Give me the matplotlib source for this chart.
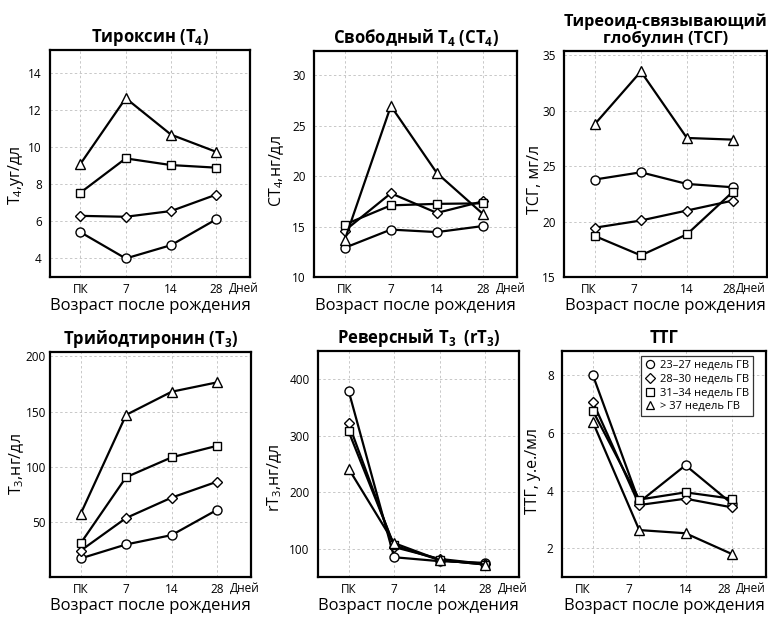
import matplotlib
matplotlib.use("Agg")
import matplotlib.pyplot as plt
from matplotlib.lines import Line2D
from matplotlib.transforms import ScaledTranslation

plt.rcParams['font.family'] = ['Open Sans', 'DejaVu Sans']
plt.rcParams['mathtext.fontset'] = 'custom'
plt.rcParams['mathtext.rm'] = 'Open Sans'

days = ['ПК', '7', '14', '28']
groups = ['23–27 недель ГВ', '28–30 недель ГВ', '31–34 недель ГВ', '> 37 недель ГВ']

# Тироксин T4
t4_c = [5.42, 4.0, 4.72, 6.12]
t4_d = [6.3, 6.25, 6.56, 7.45]
t4_s = [7.55, 9.4, 9.04, 8.9]
t4_t = [9.1, 12.65, 10.68, 9.75]

# Свободный T4
ft4_c = [12.9, 14.7, 14.45, 15.05]
ft4_d = [14.6, 18.3, 16.35, 17.5]
ft4_s = [15.2, 17.1, 17.25, 17.3]
ft4_t = [13.7, 26.95, 20.3, 16.25]

# ТСГ
tbg_c = [23.8, 24.45, 23.4, 23.1]
tbg_d = [19.45, 20.1, 21.0, 21.9]
tbg_s = [18.7, 16.95, 18.85, 22.7]
tbg_t = [28.8, 33.55, 27.55, 27.4]

# T3
t3_c = [16.8, 29.5, 38.0, 61.0]
t3_d = [23.8, 53.5, 72.0, 86.5]
t3_s = [30.4, 90.5, 108.5, 119.0]
t3_t = [57.0, 147.0, 168.0, 176.5]

# rT3
rt3_c = [380, 85, 78, 75]
rt3_d = [322, 103, 82, 73]
rt3_s = [308, 106, 80, 72]
rt3_t = [242, 110, 80, 72]

# ТТГ
tsh_c = [8.0, 3.6, 4.88, 3.55]
tsh_d = [7.07, 3.5, 3.72, 3.42]
tsh_s = [6.76, 3.69, 3.94, 3.72]
tsh_t = [6.37, 2.63, 2.52, 1.8]

panels = [
    dict(title='Тироксин (T$\\mathregular{_4}$)', ylabel='T$\\mathregular{_4}$,уг/дл',
         data=[t4_c, t4_d, t4_s, t4_t], yticks=[4, 6, 8, 10, 12, 14], ylim=(3, 15.25),
         box=(50, 250, 50, 277), yl_off=34, yl_y=0.45, ypad=6, tick_shift=[0, 0, 0, 0], tfs=12),
    dict(title='Свободный T$\\mathregular{_4}$ (СT$\\mathregular{_4}$)', ylabel='СT$\\mathregular{_4}$,нг/дл',
         data=[ft4_c, ft4_d, ft4_s, ft4_t], yticks=[10, 15, 20, 25, 30], ylim=(10, 32.4),
         box=(314, 517, 51, 277), yl_off=37, yl_y=0.47, ypad=6, tick_shift=[0, 0, 0, 0], tfs=12),
    dict(title='Тиреоид-связывающий\nглобулин (ТСГ)', ylabel='ТСГ, мг/л',
         data=[tbg_c, tbg_d, tbg_s, tbg_t], yticks=[15, 20, 25, 30, 35], ylim=(15, 35.4),
         box=(564, 767, 51, 277), yl_off=29, yl_y=0.43, ypad=6, tick_shift=[-6, -7, 0, -4], tfs=11.7),
    dict(title='Трийодтиронин (T$\\mathregular{_3}$)', ylabel='T$\\mathregular{_3}$,нг/дл',
         data=[t3_c, t3_d, t3_s, t3_t], yticks=[50, 100, 150, 200], ylim=(0, 204),
         box=(50, 251, 352, 577), yl_off=33, yl_y=0.5, ypad=3, tick_shift=[0, 0, 0, 0], tfs=12),
    dict(title='Реверсный T$\\mathregular{_3}$  (rT$\\mathregular{_3}$)', ylabel='rT$\\mathregular{_3}$,нг/дл',
         data=[rt3_c, rt3_d, rt3_s, rt3_t], yticks=[100, 200, 300, 400], ylim=(50, 450),
         box=(318, 519, 351, 577), yl_off=43, yl_y=0.44, ypad=6, tick_shift=[0, 0, 0, 0], tfs=12),
    dict(title='ТТГ', ylabel='ТТГ, у.е./мл',
         data=[tsh_c, tsh_d, tsh_s, tsh_t], yticks=[2, 4, 6, 8], ylim=(1, 8.85),
         box=(562, 766, 351, 577), yl_off=29, yl_y=0.47, ypad=6, tick_shift=[-10, -10, 0, -8], tfs=12),
]

markers = [('o', 6.5), ('D', 5.5), ('s', 6.0), ('^', 7.0)]

W, H = 768, 618
fig = plt.figure(figsize=(W / 100, H / 100), dpi=100)
x = list(range(len(days)))

for i, p in enumerate(panels):
    l, r, t, b = p['box']
    ax = fig.add_axes([l / W, 1 - b / H, (r - l) / W, (b - t) / H])
    for series, (m, ms) in zip(p['data'], markers):
        ax.plot(x, series, color='black', lw=1.6, marker=m, ms=ms,
                mfc='white', mec='black', mew=1.0, zorder=3)
    ax.set_xlim(-0.67, 3.74)
    ax.set_ylim(*p['ylim'])
    ax.set_xticks(x)
    ax.set_xticklabels(days)
    ax.set_yticks(p['yticks'])
    ax.tick_params(length=0, labelsize=8.5)
    ax.tick_params(axis='x', pad=4)
    ax.tick_params(axis='y', pad=p['ypad'])
    for lab, dx in zip(ax.get_xticklabels(), p['tick_shift']):
        if dx:
            lab.set_transform(lab.get_transform() +
                              ScaledTranslation(dx / 100, 0, fig.dpi_scale_trans))
    ax.grid(True, color='#c8c8c8', linestyle=(0, (2.5, 2.5)), linewidth=0.7, zorder=0)
    for s in ax.spines.values():
        s.set_linewidth(1.6)
    ax.set_title(p['title'], fontsize=p['tfs'], fontweight='bold', pad=6,
                 linespacing=1.0)
    ax.set_ylabel(p['ylabel'], fontsize=11.5, va='center')
    ax.yaxis.set_label_coords(-p['yl_off'] / (r - l), p['yl_y'])
    ax.set_xlabel('Возраст после рождения', fontsize=12, labelpad=2)
    # "Дней" label right of last tick, kept inside the figure
    right_px = min(r + 9, W - 2)
    ax.text(right_px / W, 1 - (b + 5) / H, 'Дней', transform=fig.transFigure,
            ha='right', va='top', fontsize=8.5)
    if i == 5:
        handles = [Line2D([], [], ls='none', marker=m, ms=ms * 0.9, mfc='white',
                          mec='black', mew=0.9) for (m, ms) in markers]
        leg = ax.legend(handles, groups, loc='upper right',
                        bbox_to_anchor=(0.935, 0.978), fontsize=8, frameon=True,
                        fancybox=False, edgecolor='black', handlelength=0.8,
                        handletextpad=0.5, borderpad=0.35, labelspacing=0.25,
                        borderaxespad=0)
        leg.get_frame().set_linewidth(0.9)

fig.savefig('out.png', dpi=100)
